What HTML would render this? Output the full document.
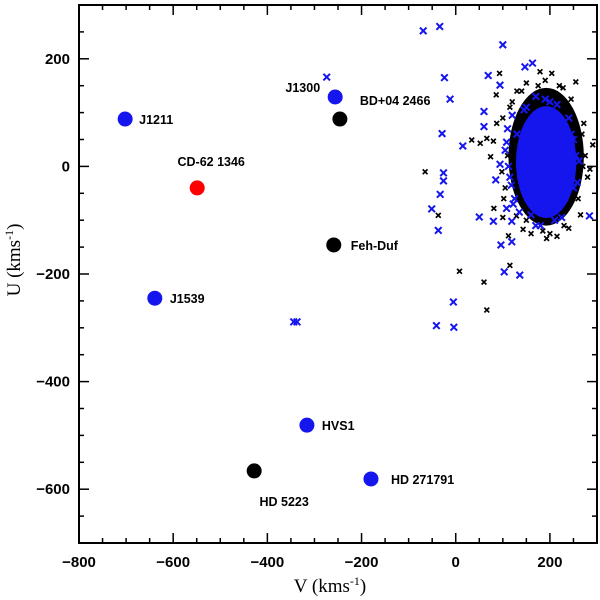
<!DOCTYPE html>
<html><head><meta charset="utf-8">
<style>
html,body{margin:0;padding:0;background:#fff;}
svg{display:block;}
.tick{font-family:"Liberation Sans",sans-serif;font-weight:bold;font-size:15px;}
.lab{font-family:"Liberation Sans",sans-serif;font-weight:bold;font-size:12.5px;}
.ttl{font-family:"Liberation Serif",serif;font-size:19px;}
</style></head>
<body>
<svg id="chart" width="600" height="600"></svg>
<script>
// ---- data ----
const xTicks = [-800, -600, -400, -200, 0, 200];
const yTicks = [-600, -400, -200, 0, 200];
const starNames = ["J1211","CD-62 1346","J1539","J1300","BD+04 2466","Feh-Duf","HVS1","HD 5223","HD 271791"];
const starV = [-702, -549, -639, -256, -246, -259, -316, -428, -180];
const starU = [88, -40, -245, 129, 88, -146, -481, -566, -581];
const starColor = ["blue","red","blue","blue","black","black","blue","black","blue"];
const blueV = [-69,-34,100,-24,-12,-29,69,94,147,163,60,60,15,-26,-26,-33,-51,-37,50,80,108,119,284,96,119,103,136,-5,-41,-4,85,94,-274,-337,-344,120,130,250,240,160,170,230,255,115,125,180,200,210,150,245,105,112,118,122,262,258,250,135,145,225,215,190,170,110,108];
const blueU = [252,260,226,165,125,61,169,151,185,192,102,74,38,-12,-27,-52,-79,-119,-94,-102,-78,-102,-92,-146,-140,-196,-202,-252,-296,-299,-25,4,166,-289,-289,95,60,-40,90,-90,130,-60,20,-20,-60,-110,120,-100,110,60,30,0,-35,-70,10,-30,50,-85,105,-95,115,125,-110,70,45];
const blackV = [93,86,-65,-37,8,60,66,115,112,143,81,129,34,52,66,80,74,87,255,228,291,193,204,179,110,105,270,268,260,140,150,185,200,230,120,175,100,98,102,275,280,272,265,240,215,160,130,115,100,150,190,220,245,285];
const blackU = [173,133,-10,-91,-195,-215,-267,-184,-129,-117,-78,-92,49,43,52,47,18,80,157,146,40,-134,173,176,20,-40,0,60,-60,140,-100,-120,-125,-110,120,150,90,-10,-60,20,-20,80,-90,-115,-130,-125,140,110,-95,155,160,150,125,-5];
// dense core of the star cloud (centre V, centre U, half-widths)
const coreBlack = [192, 18, 80, 128];
const coreBlue = [192, 8, 64, 104];

// ---- axes ----
const X0=79, X1=597, Y0=5, Y1=543, VMIN=-800, VMAX=300, UMIN=-700, UMAX=300;
const sx = v => X0 + (v-VMIN)/(VMAX-VMIN)*(X1-X0);
const sy = u => Y1 - (u-UMIN)/(UMAX-UMIN)*(Y1-Y0);
const NS="http://www.w3.org/2000/svg";
const svg=document.getElementById('chart');
function mk(tag, attrs, parent){const e=document.createElementNS(NS,tag);for(const k in attrs)e.setAttribute(k,attrs[k]);(parent||svg).appendChild(e);return e;}

const cb=mk('ellipse',{cx:sx(coreBlack[0]),cy:sy(coreBlack[1]),rx:coreBlack[2]*(X1-X0)/(VMAX-VMIN),ry:coreBlack[3]*(Y1-Y0)/(UMAX-UMIN),fill:'#000'});



function cross(v,u,col,s,w){
  const g=mk('g',{stroke:col,'stroke-width':w});
  const x=sx(v), y=sy(u);
  mk('line',{x1:x-s,y1:y-s,x2:x+s,y2:y+s},g);
  mk('line',{x1:x-s,y1:y+s,x2:x+s,y2:y-s},g);
  return g;
}
for(let i=0;i<blackV.length;i++){
  const g=cross(blackV[i],blackU[i],'#000',2.4,1.7);
  
  
}
const cu=mk('ellipse',{cx:sx(coreBlue[0]),cy:sy(coreBlue[1]),rx:coreBlue[2]*(X1-X0)/(VMAX-VMIN),ry:coreBlue[3]*(Y1-Y0)/(UMAX-UMIN),fill:'#1515ee'});


for(let i=0;i<blueV.length;i++){
  const g=cross(blueV[i],blueU[i],'#1515ee',3.3,2);
  
  
}

const labelPos = [[14,5,'start'],[14,-22,'middle'],[15,5,'start'],[-15,-5,'end'],[20,-14,'start'],[17,5,'start'],[15,5,'start'],[30,35,'middle'],[20,5,'start']];
for(let i=0;i<starNames.length;i++){
  const c=mk('circle',{cx:sx(starV[i]),cy:sy(starU[i]),r:7.5,fill:starColor[i]==='blue'?'#1515ee':(starColor[i]==='red'?'#ff0000':'#000')});
  
  
  const t=mk('text',{x:sx(starV[i])+labelPos[i][0],y:sy(starU[i])+labelPos[i][1],'text-anchor':labelPos[i][2],class:'lab'});
  t.textContent=starNames[i];
  
  
}

const fr=mk('rect',{x:X0,y:Y0,width:X1-X0,height:Y1-Y0,fill:'none',stroke:'#000','stroke-width':2});


for(let v=-800; v<=300; v+=50){
  const L = (v%200===0)?10:5;
  mk('line',{x1:sx(v),y1:Y1,x2:sx(v),y2:Y1-L,stroke:'#000','stroke-width':1.5});
  mk('line',{x1:sx(v),y1:Y0,x2:sx(v),y2:Y0+L,stroke:'#000','stroke-width':1.5});
}
for(let u=-700; u<=300; u+=50){
  const L = (u%200===0)?10:5;
  mk('line',{x1:X0,y1:sy(u),x2:X0+L,y2:sy(u),stroke:'#000','stroke-width':1.5});
  mk('line',{x1:X1,y1:sy(u),x2:X1-L,y2:sy(u),stroke:'#000','stroke-width':1.5});
}
xTicks.forEach(v=>{
  const t=mk('text',{x:sx(v),y:567,'text-anchor':'middle',class:'tick'});
  t.textContent=(v<0?'\u2212'+(-v):v);
  
  
});
yTicks.forEach(u=>{
  const t=mk('text',{x:70,y:sy(u)+5,'text-anchor':'end',class:'tick'});
  t.textContent=(u<0?'\u2212'+(-u):u);
  
  
});
const xt=mk('text',{x:330,y:592,'text-anchor':'middle',class:'ttl'});
xt.innerHTML='V (kms<tspan dy="-7" font-size="12">-1</tspan><tspan dy="7">)</tspan>';


const yt=mk('text',{x:0,y:0,'text-anchor':'middle',class:'ttl',transform:'translate(20,260) rotate(-90)'});
yt.innerHTML='U (kms<tspan dy="-7" font-size="12">-1</tspan><tspan dy="7">)</tspan>';


</script>
</body></html>
